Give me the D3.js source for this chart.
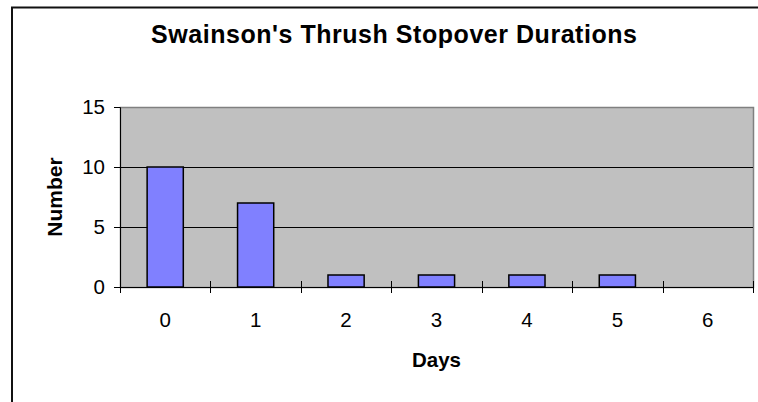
<!DOCTYPE html>
<html>
<head>
<meta charset="utf-8">
<script src="https://cdn.jsdelivr.net/npm/d3@7"></script>
<style>
  body { margin: 0; background: #fff; }
  text { font-family: "Liberation Sans", Arial, sans-serif; fill: #000; }
</style>
</head>
<body>
<svg id="chart" width="758" height="402"></svg>
<script>
// data
var days = ["0", "1", "2", "3", "4", "5", "6"];
var counts = [10, 7, 1, 1, 1, 1, 0];
var yTicks = [0, 5, 10, 15];

function drawChart()
{
    var svg = d3.select("#chart");

    // chart frame (runs past the right and bottom edges)
    svg.append("rect")
        .attr("x", 12)
        .attr("y", 7.5)
        .attr("width", 800)
        .attr("height", 420)
        .style("fill", "#fff")
        .style("stroke", "#111")
        .style("stroke-width", 2);

    var pLeft = 120, pTop = 107, pRight = 753, pBottom = 287;

    var xScale = d3.scaleBand()
        .domain(days)
        .range([pLeft, pRight])
        .paddingInner(0.6)
        .paddingOuter(0.3);

    // band positions for tick marks between categories
    var xBand = d3.scaleBand()
        .domain(days)
        .range([pLeft, pRight]);

    var yScale = d3.scaleLinear()
        .domain([0, 15])
        .range([pBottom, pTop]);

    // plot area
    svg.append("rect")
        .attr("x", pLeft + 0.5)
        .attr("y", pTop + 0.5)
        .attr("width", pRight - pLeft)
        .attr("height", pBottom - pTop)
        .style("fill", "#c0c0c0")
        .style("stroke", "#808080")
        .style("stroke-width", 1.5);

    // gridlines
    svg.append("g")
        .selectAll("line")
        .data(yTicks.filter(function (d) { return d > 0 && d < 15; }))
        .enter().append("line")
        .attr("x1", pLeft)
        .attr("x2", pRight)
        .attr("y1", function (d) { return Math.round(yScale(d)) + 0.5; })
        .attr("y2", function (d) { return Math.round(yScale(d)) + 0.5; })
        .style("stroke", "#000")
        .style("stroke-width", 1);

    // bars
    svg.append("g")
        .selectAll("rect")
        .data(counts.filter(function (d) { return d > 0; }))
        .enter().append("rect")
        .attr("x", function (d, i) { return xScale(days[i]); })
        .attr("y", function (d) { return yScale(d); })
        .attr("width", xScale.bandwidth())
        .attr("height", function (d) { return pBottom - yScale(d); })
        .style("fill", "#8080ff")
        .style("stroke", "#000")
        .style("stroke-width", 1.5);

    // y axis
    var y_axis = d3.axisLeft(yScale)
        .tickValues(yTicks)
        .tickSize(6)
        .tickPadding(9);

    var gy = svg.append("g")
        .attr("transform", "translate(" + pLeft + ",0)")
        .call(y_axis)
        .attr("font-size", 20.5)
        .attr("font-family", "Liberation Sans, Arial, sans-serif");
    gy.selectAll("line").style("stroke", "#000");
    gy.select(".domain").style("stroke", "#000");

    // x axis
    var x_axis = d3.axisBottom(xScale)
        .tickSize(0)
        .tickPadding(25);

    var gx = svg.append("g")
        .attr("transform", "translate(0," + pBottom + ")")
        .call(x_axis)
        .attr("font-size", 20.5)
        .attr("font-family", "Liberation Sans, Arial, sans-serif");
    gx.select(".domain").attr("d", "M" + pLeft + ",0.5H" + pRight).style("stroke", "#000");

    // tick marks between categories, crossing the axis
    var bounds = days.map(function (d) { return xBand(d); }).concat([pRight]);
    svg.append("g")
        .selectAll("line")
        .data(bounds)
        .enter().append("line")
        .attr("x1", function (d) { return Math.round(d) + 0.5; })
        .attr("x2", function (d) { return Math.round(d) + 0.5; })
        .attr("y1", function (d, i) { return i === 0 ? pBottom : pBottom - 6; })
        .attr("y2", pBottom + 6)
        .style("stroke", "#000");

    // title
    svg.append("text")
        .attr("x", 394)
        .attr("y", 43)
        .attr("text-anchor", "middle")
        .attr("textLength", 486)
        .attr("lengthAdjust", "spacing")
        .style("font-size", "25px")
        .style("font-weight", "bold")
        .text("Swainson's Thrush Stopover Durations");

    // axis titles
    svg.append("text")
        .attr("x", (pLeft + pRight) / 2)
        .attr("y", 367)
        .attr("text-anchor", "middle")
        .style("font-size", "20.5px")
        .style("font-weight", "bold")
        .text("Days");

    svg.append("g")
        .attr("transform", "translate(62," + (pTop + pBottom) / 2 + ")")
        .append("text")
        .attr("text-anchor", "middle")
        .attr("transform", "rotate(-90)")
        .style("font-size", "21px")
        .style("font-weight", "bold")
        .text("Number");
}

drawChart();
</script>
</body>
</html>
